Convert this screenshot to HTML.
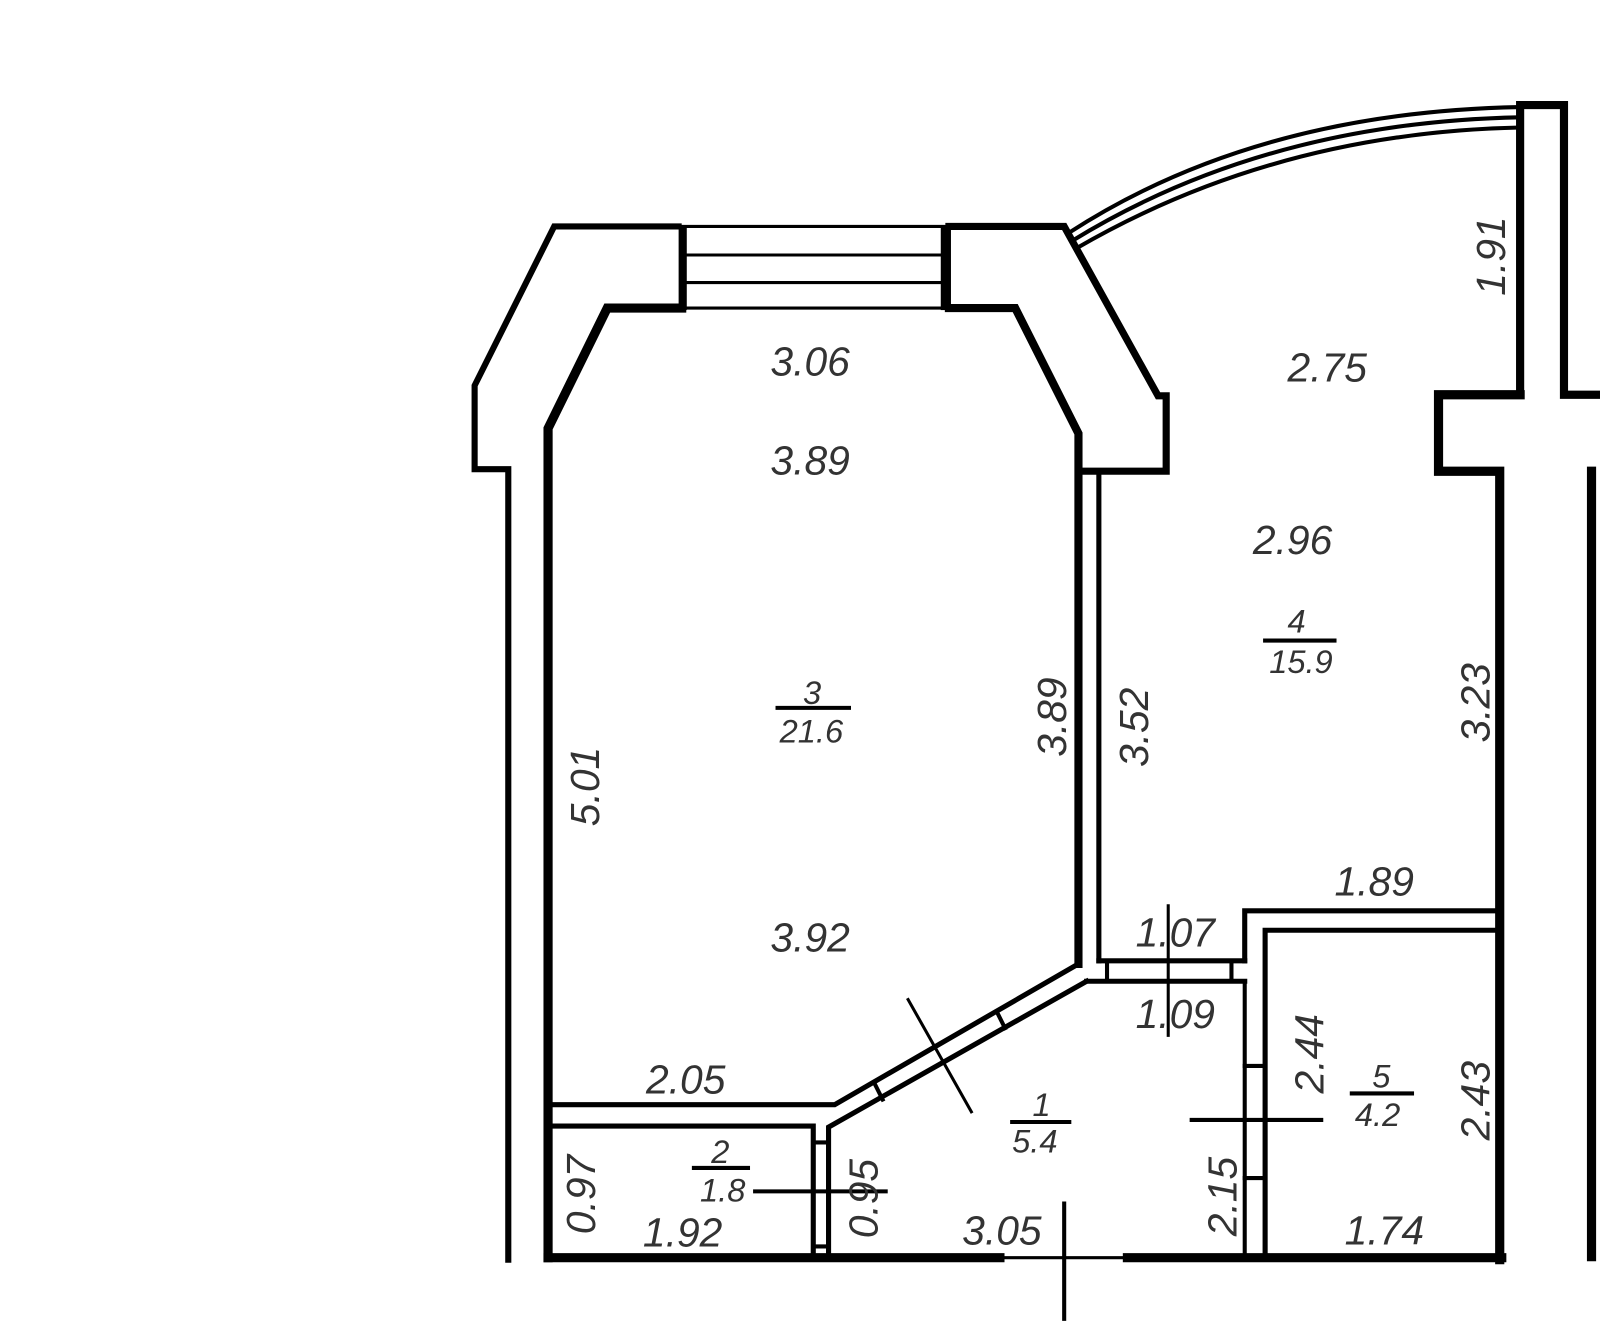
<!DOCTYPE html>
<html><head><style>
html,body{margin:0;padding:0;background:#fff;}
svg{display:block;}
text{font-family:"Liberation Sans",sans-serif;font-style:italic;font-size:40px;fill:#333;}
</style></head><body>
<svg width="1600" height="1326" viewBox="0 0 1568 1300" xmlns="http://www.w3.org/2000/svg">
<g fill="none" stroke="#000" stroke-linejoin="miter" stroke-linecap="square">
<polyline points="498,1235 498,460 465,460 465,378 543,222 665,222" stroke-width="6"/>
<line x1="665" y1="222" x2="930" y2="222" stroke-width="3"/>
<polyline points="930,222 1043,222 1135,388 1143,388 1143,462 1060,462" stroke-width="7"/>
<polyline points="537,1233 537,420 595,302 668,302" stroke-width="9"/>
<rect x="665" y="222" width="8" height="82" fill="#000" stroke="none"/>
<rect x="922" y="222" width="10" height="82" fill="#000" stroke="none"/>
<line x1="672" y1="250" x2="922" y2="250" stroke-width="3"/>
<line x1="672" y1="277" x2="922" y2="277" stroke-width="3"/>
<line x1="672" y1="302" x2="922" y2="302" stroke-width="3"/>
<polyline points="930,302 995,302 1057,425 1057,945" stroke-width="8"/>
<line x1="1077" y1="465" x2="1077" y2="942" stroke-width="5"/>
<line x1="1077" y1="942" x2="1220" y2="942" stroke-width="5"/>
<polyline points="1220,942 1220,893 1465,893" stroke-width="5"/>
<polyline points="1240,1230 1240,912 1465,912" stroke-width="5"/>
<line x1="1065" y1="962" x2="1220" y2="962" stroke-width="5"/>
<line x1="1085" y1="942" x2="1085" y2="962" stroke-width="4"/>
<line x1="1207" y1="942" x2="1207" y2="962" stroke-width="4"/>
<line x1="1220" y1="962" x2="1220" y2="1232" stroke-width="4"/>
<line x1="1220" y1="1045" x2="1240" y2="1045" stroke-width="4"/>
<line x1="1220" y1="1155" x2="1240" y2="1155" stroke-width="4"/>
<polyline points="1057,945 818,1083 540,1083" stroke-width="5"/>
<polyline points="1065,962 812,1105 812,1232" stroke-width="5"/>
<line x1="977" y1="992" x2="985" y2="1008" stroke-width="4"/>
<line x1="857" y1="1062" x2="865" y2="1078" stroke-width="4"/>
<polyline points="540,1104 797,1104 797,1232" stroke-width="5"/>
<line x1="797" y1="1120" x2="812" y2="1120" stroke-width="4"/>
<line x1="797" y1="1222" x2="812" y2="1222" stroke-width="4"/>
<line x1="537" y1="1233" x2="980" y2="1233" stroke-width="9"/>
<line x1="980" y1="1233" x2="1105" y2="1233" stroke-width="3"/>
<line x1="1105" y1="1233" x2="1472" y2="1233" stroke-width="9"/>
<polyline points="1470,1235 1470,462 1410,462 1410,387 1490,387" stroke-width="9"/>
<polyline points="1490,387 1490,103 1533,103 1533,387 1566,387" stroke-width="8"/>
<line x1="1560" y1="462" x2="1560" y2="1232" stroke-width="9"/>
<path d="M1048,228 Q1230,110 1490,105" stroke-width="4"/>
<path d="M1051,236 Q1240,120 1490,115" stroke-width="4"/>
<path d="M1054,244 Q1250,130 1490,125" stroke-width="4"/>
<line x1="890" y1="980" x2="952" y2="1090" stroke-width="3"/>
<line x1="1145" y1="888" x2="1145" y2="1015" stroke-width="3"/>
<line x1="1168" y1="1098" x2="1295" y2="1098" stroke-width="4"/>
<line x1="740" y1="1168" x2="868" y2="1168" stroke-width="4"/>
<line x1="1043" y1="1180" x2="1043" y2="1293" stroke-width="4"/>
<line x1="762" y1="694" x2="832" y2="694" stroke-width="4"/>
<line x1="1240" y1="628" x2="1308" y2="628" stroke-width="4"/>
<line x1="992" y1="1100" x2="1048" y2="1100" stroke-width="4"/>
<line x1="1325" y1="1072" x2="1384" y2="1072" stroke-width="4"/>
<line x1="680" y1="1145" x2="733" y2="1145" stroke-width="4"/>
</g>
<g>
<text x="755" y="368">3.06</text>
<text x="755" y="465">3.89</text>
<text x="1262" y="374">2.75</text>
<text x="1228" y="543">2.96</text>
<text x="1308" y="878">1.89</text>
<text x="755" y="933">3.92</text>
<text x="633" y="1072">2.05</text>
<text x="1113" y="928">1.07</text>
<text x="1113" y="1008">1.09</text>
<text x="630" y="1222">1.92</text>
<text x="943" y="1220">3.05</text>
<text x="1318" y="1220">1.74</text>
<text x="787" y="690" style="font-size:32px">3</text>
<text x="764" y="728" style="font-size:32px">21.6</text>
<text x="1262" y="620" style="font-size:32px">4</text>
<text x="1244" y="660" style="font-size:32px">15.9</text>
<text x="1012" y="1094" style="font-size:32px">1</text>
<text x="992" y="1130" style="font-size:32px">5.4</text>
<text x="1345" y="1066" style="font-size:32px">5</text>
<text x="1328" y="1104" style="font-size:32px">4.2</text>
<text x="697" y="1140" style="font-size:32px">2</text>
<text x="686" y="1178" style="font-size:32px">1.8</text>
<text transform="translate(587,810) rotate(-90)">5.01</text>
<text transform="translate(1045,742) rotate(-90)">3.89</text>
<text transform="translate(1125,752) rotate(-90)">3.52</text>
<text transform="translate(1460,728) rotate(-90)">3.23</text>
<text transform="translate(1475,290) rotate(-90)">1.91</text>
<text transform="translate(1297,1072) rotate(-90)">2.44</text>
<text transform="translate(1460,1118) rotate(-90)">2.43</text>
<text transform="translate(1212,1212) rotate(-90)">2.15</text>
<text transform="translate(583,1210) rotate(-90)">0.97</text>
<text transform="translate(860,1214) rotate(-90)">0.95</text>
</g>
</svg>
</body></html>
